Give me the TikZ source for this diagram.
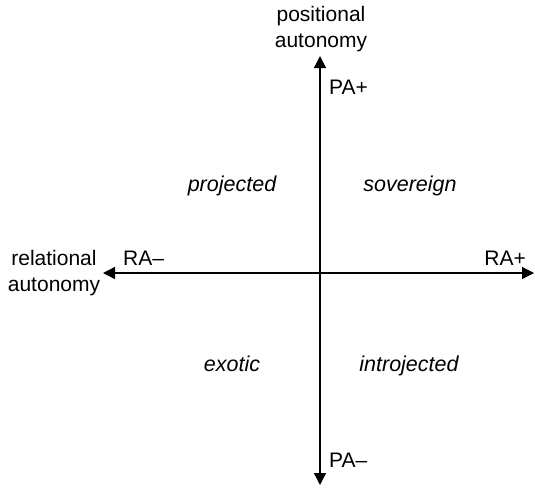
\documentclass[tikz,border=0pt]{standalone}
\usepackage{fontspec}
\setmainfont{Liberation Sans}
\usetikzlibrary{arrows.meta}
\begin{document}
\begin{tikzpicture}[x=1pt,y=-1pt,
  axis/.style={line width=1.3pt,{Triangle[length=12pt,width=12pt]}-{Triangle[length=12pt,width=12pt]}},
  lbl/.style={font=\fontsize{21}{26}\selectfont,inner sep=0pt,align=center},
  quad/.style={font=\fontsize{21.5}{26}\selectfont\itshape,inner sep=0pt,anchor=base}]
  \useasboundingbox (0,0) rectangle (535,488);
  % axis end points
  \coordinate (top) at (320,56);
  \coordinate (bottom) at (320,485);
  \coordinate (left) at (103,273);
  \coordinate (right) at (534,273);
  \draw[axis] (bottom) -- (top);
  \draw[axis] (left) -- (right);
  % axis titles (base anchor sits on the second line)
  \node[lbl,anchor=base] (pa) at (321,47) {positional\\autonomy};
  \node[lbl,anchor=base] (ra) at (54,291) {relational\\autonomy};
  % axis end labels
  \node[lbl,anchor=base west] (paplus) at (329,94) {PA+};
  \node[lbl,anchor=base west] (paminus) at (329,467) {PA–};
  \node[lbl,anchor=base west] (raminus) at (123,265) {RA–};
  \node[lbl,anchor=base east] (raplus) at (526,265) {RA+};
  % quadrant names
  \node[quad] (projected) at (232,191) {projected};
  \node[quad] (sovereign) at (410,191) {sovereign};
  \node[quad] (exotic) at (232,371) {exotic};
  \node[quad] (introjected) at (409,371) {introjected};
\end{tikzpicture}
\end{document}
